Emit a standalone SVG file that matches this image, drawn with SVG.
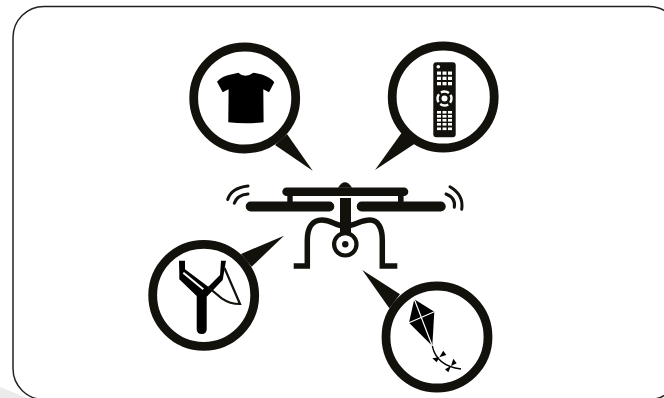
<svg xmlns="http://www.w3.org/2000/svg" width="664" height="398" viewBox="0 0 664 398">
<style>
.ring{fill:#fff;stroke:#12110c;stroke-width:8.8}
.tail{fill:#12110c}
.ln{fill:none;stroke:#12110c;stroke-linecap:round}
.btn{fill:#fff}
</style>
<rect width="664" height="398" fill="#fff"/>
<path d="M0,387 L27,398 H0Z" fill="#ebebeb"/>
<rect id="frame" x="13" y="6.5" width="667" height="393" rx="31" ry="31" fill="#fff" stroke="#222" stroke-width="1.5"/>
<g id="connectors">
<path class="tail" d="M275,145 L287,134 L312.7,170.7Z"/>
<path class="tail" d="M401.7,132.7 L414.3,144 L375,170Z"/>
<path class="tail" d="M241,254 L251.7,266.7 L284,235.7Z"/>
<path class="tail" d="M362.3,270 L400,294.3 L389.3,308.3Z"/>
</g>
<g id="shirt">
<circle class="ring" cx="244.7" cy="98" r="51"/>
<path d="M238.3,72.7 Q245,79 253.3,72.7 L262,74.5 Q270,77 274.3,82.3 L269,92.3 L263.3,89.3 L263.6,122.3 Q246,124 228.3,122.3 L228.6,89.3 L222.7,92.3 L217,81.7 Q222,76 231,74.5Z" fill="#000"/>
</g>
<g id="remote">
<circle class="ring" cx="443.2" cy="97" r="51"/>
<rect x="433.3" y="62.3" width="22.4" height="75" rx="3" fill="#12110c"/>
<circle class="btn" cx="438.3" cy="66.7" r="1.8"/>
<g class="btn">
<rect x="437" y="71.5" width="4" height="3.3"/><rect x="442.5" y="71.5" width="4" height="3.3"/><rect x="448" y="71.5" width="4" height="3.3"/>
<rect x="437" y="76.7" width="4" height="3.3"/><rect x="442.5" y="76.7" width="4" height="3.3"/><rect x="448" y="76.7" width="4" height="3.3"/>
<rect x="437" y="82" width="4" height="3.3"/><rect x="442.5" y="82" width="4" height="3.3"/><rect x="448" y="82" width="4" height="3.3"/>
<rect x="437" y="111" width="4" height="2.6"/><rect x="442.5" y="111" width="4" height="2.6"/><rect x="448" y="111" width="4" height="2.6"/>
<rect x="437" y="115" width="4" height="2.6"/><rect x="442.5" y="115" width="4" height="2.6"/><rect x="448" y="115" width="4" height="2.6"/>
<rect x="437" y="119" width="4" height="2.6"/><rect x="442.5" y="119" width="4" height="2.6"/><rect x="448" y="119" width="4" height="2.6"/>
<rect x="437" y="123" width="4" height="2.6"/><rect x="442.5" y="123" width="4" height="2.6"/><rect x="448" y="123" width="4" height="2.6"/>
<rect x="437" y="127.5" width="4" height="2.6"/><rect x="442.5" y="127.5" width="4" height="2.6"/><rect x="448" y="127.5" width="4" height="2.6"/>
</g>
<circle cx="444.5" cy="98.5" r="7" fill="none" stroke="#fff" stroke-width="2.4" stroke-dasharray="8.5 2.5" stroke-dashoffset="4"/>
<circle class="btn" cx="444.5" cy="98.5" r="3"/>
</g>
<g id="drone">
<rect x="282.3" y="187.5" width="126" height="8.6" rx="4.3" fill="#12110c"/>
<path d="M338,187.7 Q345,177 352,187.7Z" fill="#12110c"/>
<rect x="245.7" y="201.5" width="88.6" height="10" rx="5" fill="#12110c"/>
<rect x="356.7" y="201.5" width="89" height="10" rx="5" fill="#12110c"/>
<rect x="287.3" y="195" width="5.4" height="8" fill="#12110c"/>
<rect x="398" y="195" width="5.6" height="8" fill="#12110c"/>
<rect x="340" y="198" width="11" height="36" fill="#12110c"/>
<path d="M345,226 C335,226 332,220 322,220 C312,220 307.3,228 307.3,240 L307.3,266 H293.7" fill="none" stroke="#12110c" stroke-width="5.5"/>
<path d="M345,226 C355,226 360,220 370,220 C378,220 382.3,228 382.3,240 L382.3,266 H397.3" fill="none" stroke="#12110c" stroke-width="5.5"/>
<circle cx="345.3" cy="244.3" r="11.2" fill="#fff" stroke="#12110c" stroke-width="4.2"/>
<circle cx="345.3" cy="244.3" r="3.2" fill="#12110c"/>
<path class="ln" stroke-width="3" d="M227.7,199.5 Q231,188 248,186"/>
<path class="ln" stroke-width="3" d="M234.3,203.3 Q237,195 248,194"/>
<path class="ln" stroke-width="3" d="M450,186.7 Q464,195 461.7,209.3"/>
<path class="ln" stroke-width="3" d="M446,194 Q456,198 454.3,207.3"/>
</g>
<g id="slingshot">
<circle class="ring" cx="203.7" cy="295.3" r="51"/>
<path d="M179,260.7 H185 V269.3 L208.3,286.7 L220,275 L221,260.7 H226 L222.7,280 L206.7,296.7 V329 Q206.7,334 201.7,334 Q196.7,334 196.7,329 V296 L179.3,279.3 V273.3Z" fill="#000"/>
<path d="M183.3,272.7 L203.3,289.3" fill="none" stroke="#fff" stroke-width="2"/>
<path d="M208,287 L221.7,298.3 Q230,304 240,304 L224.5,268" fill="none" stroke="#12110c" stroke-width="2.2"/>
</g>
<g id="kite">
<circle class="ring" cx="437" cy="337" r="51"/>
<path d="M414.3,299.3 L434.3,311.7 L432.3,346 L409,322.7Z" fill="#000"/>
<path d="M414.3,299.3 L432.3,346 M409,322.7 L434.3,311.7" stroke="#fff" stroke-width="1.2" fill="none"/>
<path d="M432.3,346 C435,359 445,367 461,369" fill="none" stroke="#000" stroke-width="1.3"/>
<path d="M432.3,358.3 L436.7,362.3 L439.3,357.3Z M439.3,357.3 L443.3,350.7 L446.3,355Z M445,369.3 L448.3,372.3 L451,366Z M451,366 L453.3,358.7 L456.7,363.3Z" fill="#000"/>
</g>
</svg>
